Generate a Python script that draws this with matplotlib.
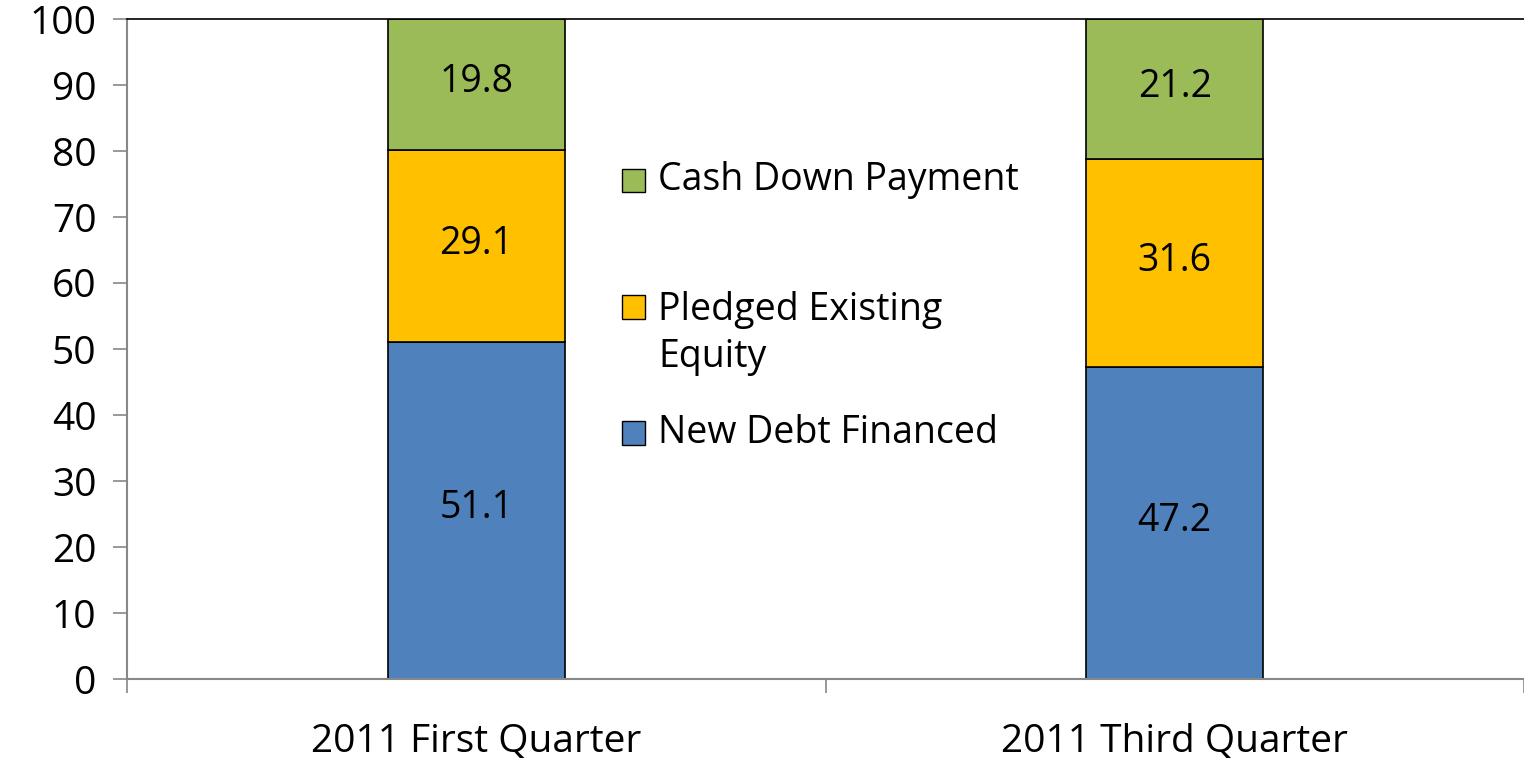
import matplotlib
matplotlib.use("Agg")
import matplotlib.pyplot as plt
from matplotlib.patches import Rectangle
import numpy as np

categories = ["2011 First Quarter", "2011 Third Quarter"]
new_debt = [51.1, 47.2]
pledged = [29.1, 31.6]
cash_down = [19.8, 21.2]
series_labels = ["Cash Down Payment", "Pledged Existing\nEquity", "New Debt Financed"]

colors = {"debt": "#4F81BD", "pledged": "#FFC000", "cash": "#9BBB59"}

plt.rcParams["font.family"] = ["Open Sans", "DejaVu Sans"]
FS = 27

fig = plt.figure(figsize=(15.24, 7.59), dpi=100)
ax = fig.add_axes([127 / 1524, 1 - 679 / 759, 1 - 127 / 1524, (679 - 19) / 759])

x = np.arange(len(categories))
w = 0.253
bottom2 = np.array(new_debt)
bottom3 = bottom2 + np.array(pledged)
b1 = ax.bar(x, new_debt, w, color=colors["debt"], edgecolor="black", lw=1.2)
b2 = ax.bar(x, pledged, w, bottom=bottom2, color=colors["pledged"],
            edgecolor="black", lw=1.2)
b3 = ax.bar(x, cash_down, w, bottom=bottom3, color=colors["cash"],
            edgecolor="black", lw=1.2)

for bars, vals, bots in ((b1, new_debt, [0, 0]), (b2, pledged, bottom2),
                         (b3, cash_down, bottom3)):
    for rect, v, b in zip(bars, vals, bots):
        ax.text(rect.get_x() + rect.get_width() / 2, b + v / 2 + 0.3,
                f"{v:.1f}", ha="center", va="center", fontsize=FS)

ax.set_xlim(-0.5, 1.5)
ax.set_ylim(0, 100)
ax.set_yticks(np.arange(0, 101, 10))
ax.tick_params(axis="y", labelsize=FS + 1, color="#888888", length=10,
               width=1.2, pad=12)
ax.set_xticks(x)
ax.set_xticklabels(categories, fontsize=FS + 1)
ax.set_xticks([-0.5, 0.5, 1.5], minor=True)
ax.tick_params(axis="x", which="major", length=0, pad=32)
ax.tick_params(axis="x", which="minor", length=10, color="#888888", width=1.2)

for side in ("left", "bottom"):
    ax.spines[side].set_color("#888888")
    ax.spines[side].set_linewidth(1.5)
ax.spines["top"].set_color("black")
ax.spines["top"].set_linewidth(1.2)
ax.spines["right"].set_visible(False)

# hand-built legend (Excel style, handle aligned with first text line)
leg_colors = [colors["cash"], colors["pledged"], colors["debt"]]
handle_y = [0.756, 0.5636, 0.3727]
text_y = [0.756, 0.5235, 0.3727]
hx, hw = 0.3543, 0.0165
hh = hw * 1397 / 660
for lab, c, hy, ty in zip(series_labels, leg_colors, handle_y, text_y):
    ax.add_patch(Rectangle((hx, hy - hh / 2), hw, hh, transform=ax.transAxes,
                           facecolor=c, edgecolor="black", lw=1.0,
                           clip_on=False))
    ax.text(0.3801, ty, lab, transform=ax.transAxes, ha="left", va="center",
            fontsize=FS, linespacing=1.3)

fig.savefig("out.png", dpi=100)
